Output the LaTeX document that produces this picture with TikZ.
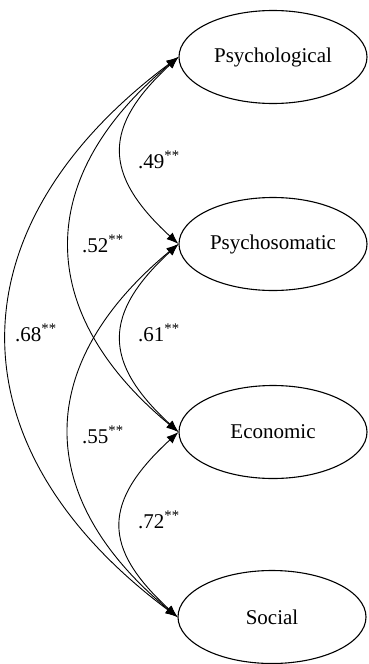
\documentclass[tikz,border=0pt]{standalone}
\usepackage{fontspec}
\setmainfont{Liberation Serif}
\usetikzlibrary{arrows.meta,shapes.geometric}
\tikzset{
  factor/.style={draw,ellipse,line width=1.1pt,minimum width=188pt,minimum height=93pt,inner sep=0pt,font=\fontsize{21}{25}\selectfont},
  corr/.style={{Latex[length=12pt,width=9pt]}-{Latex[length=12pt,width=9pt]},line width=0.9pt},
  coef/.style={anchor=west,inner sep=0pt,font=\fontsize{21}{25}\selectfont}
}
\newcommand{\sig}[1]{#1\textsuperscript{**}}
\begin{document}
\begin{tikzpicture}[x=1pt,y=-1pt,line cap=round,line join=round]
  \useasboundingbox (0,0) rectangle (368,664);
  \node[factor] (psy) at (273,57) {Psychological};
  \node[factor] (som) at (273,244) {Psychosomatic};
  \node[factor] (eco) at (273,432) {Economic};
  \node[factor] (soc) at (272,617) {Social};
  % neighbours
  \draw[corr] (psy.west) .. controls +(-76,70) and +(-76,-70) .. (som.west);
  \draw[corr] (som.west) .. controls +(-76,70) and +(-76,-70) .. (eco.west);
  \draw[corr] (eco.west) .. controls +(-76,70) and +(-76,-70) .. (soc.west);
  % one apart
  \draw[corr] (psy.west) .. controls +(-145,120) and +(-145,-120) .. (eco.west);
  \draw[corr] (som.west) .. controls +(-145,120) and +(-145,-120) .. (soc.west);
  % two apart
  \draw[corr] (psy.west) .. controls +(-228,170) and +(-228,-170) .. (soc.west);
  \node[coef] (r49) at (138,160) {\sig{.49}};
  \node[coef] (r61) at (138,333) {\sig{.61}};
  \node[coef] (r72) at (138,520) {\sig{.72}};
  \node[coef] (r52) at (82,244) {\sig{.52}};
  \node[coef] (r55) at (82,435) {\sig{.55}};
  \node[coef] (r68) at (15,333) {\sig{.68}};
\end{tikzpicture}
\end{document}
